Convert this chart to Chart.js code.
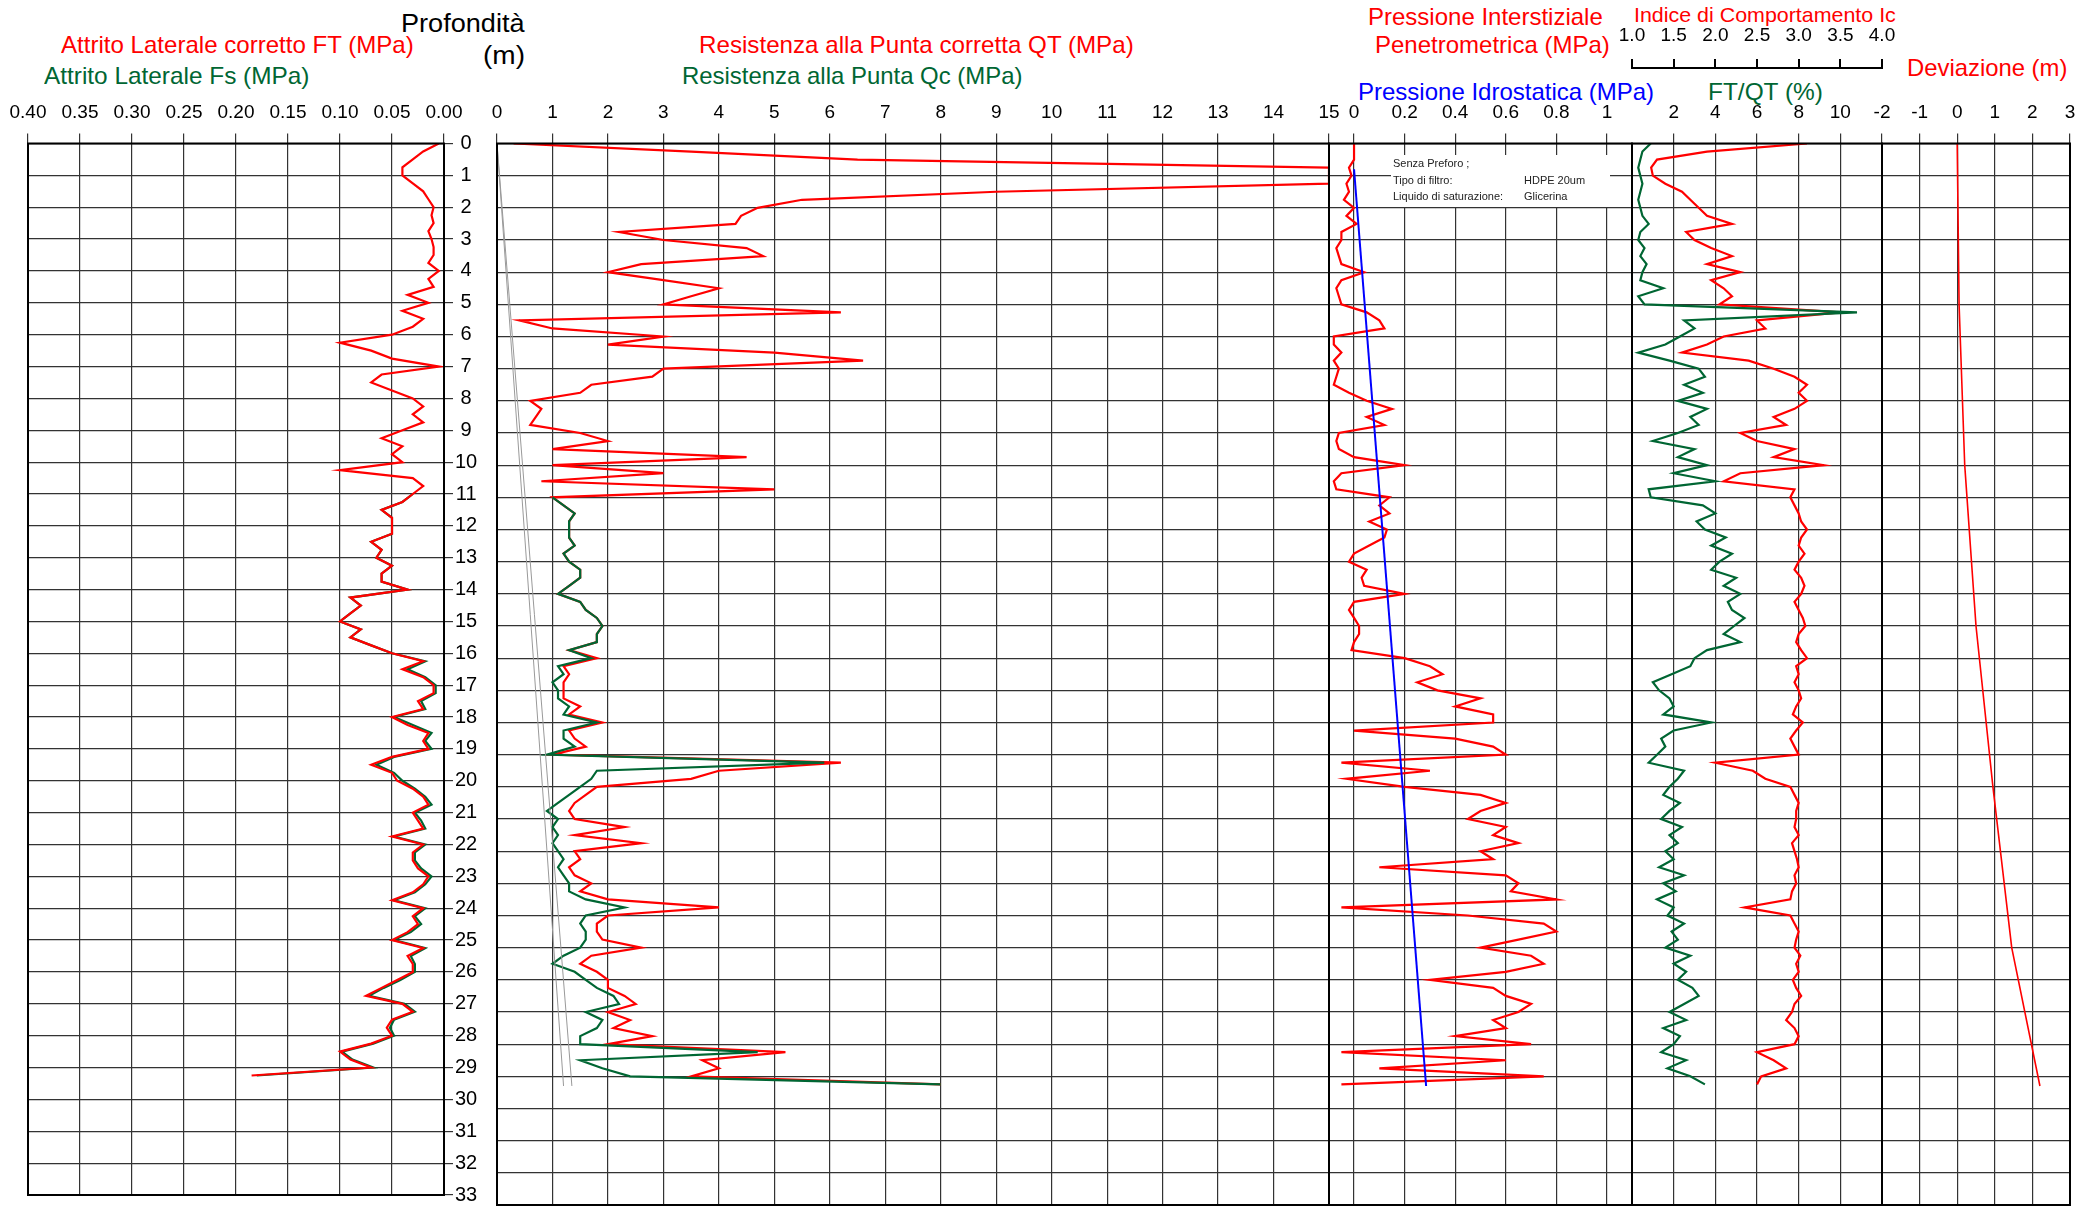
<!DOCTYPE html>
<html>
<head>
<meta charset="utf-8">
<script src="https://cdn.jsdelivr.net/npm/chart.js@4.4.1/dist/chart.umd.min.js"></script>
<style>
  body { margin:0; width:2098px; height:1209px; background:#fff; position:relative; overflow:hidden; font-family:"Liberation Sans", Arial, sans-serif; }
  canvas { position:absolute; top:0; }
  .lbl { position:absolute; white-space:nowrap; font-size:24px; line-height:24px; margin-top:-12px; transform-origin:0 50%; }
  .r { color:#ff0000; } .g { color:#006633; } .b { color:#0000ff; } .k { color:#000; }
</style>
</head>
<body>
<div class="lbl k" data-w="124" style="left:401px;top:23px;font-size:26px">Profondità</div>
<div class="lbl k" data-w="42" style="left:483px;top:55px;font-size:26px">(m)</div>
<div class="lbl r" data-w="353" style="left:61px;top:45px">Attrito Laterale corretto FT (MPa)</div>
<div class="lbl g" data-w="265" style="left:44px;top:76px">Attrito Laterale Fs (MPa)</div>
<div class="lbl r" data-w="435" style="left:699px;top:45px">Resistenza alla Punta corretta QT (MPa)</div>
<div class="lbl g" data-w="340" style="left:682px;top:76px">Resistenza alla Punta Qc (MPa)</div>
<div class="lbl r" data-w="235" style="left:1368px;top:17px">Pressione Interstiziale</div>
<div class="lbl r" data-w="235" style="left:1375px;top:45px">Penetrometrica (MPa)</div>
<div class="lbl r" data-w="262" style="left:1634px;top:15px;font-size:21px">Indice di Comportamento Ic</div>
<div class="lbl r" data-w="160" style="left:1907px;top:68px">Deviazione (m)</div>
<div class="lbl b" data-w="296" style="left:1358px;top:92px">Pressione Idrostatica (MPa)</div>
<div class="lbl g" data-w="115" style="left:1708px;top:92px">FT/QT (%)</div>

<canvas id="p1"></canvas>
<canvas id="p2"></canvas>
<canvas id="p3"></canvas>
<canvas id="p4"></canvas>
<canvas id="p5"></canvas>

<script>
// depth grid (m)
const D = [0,0.25,0.5,0.75,1,1.25,1.5,1.75,2,2.25,2.5,2.75,3,3.25,3.5,3.75,4,4.25,4.5,4.75,5,5.25,5.5,5.75,
  6,6.25,6.5,6.75,7,7.25,7.5,7.75,8,8.25,8.5,8.75,9,9.25,9.5,9.75,10,10.25,10.5,10.75,11,11.25,11.5,11.75,
  12,12.25,12.5,12.75,13,13.25,13.5,13.75,14,14.25,14.5,14.75,15,15.25,15.5,15.75,16,16.25,16.5,16.75,17,17.25,17.5,17.75,
  18,18.25,18.5,18.75,19,19.25,19.5,19.75,20,20.25,20.5,20.75,21,21.25,21.5,21.75,22,22.25,22.5,22.75,23,23.25,23.5,23.75,
  24,24.25,24.5,24.75,25,25.25,25.5,25.75,26,26.25,26.5,26.75,27,27.25,27.5,27.75,28,28.25,28.5,28.75,29,29.25];
const D_DEEP = D.slice(44); // from 11 m

// Attrito laterale corretto FT (MPa)
const FT = [0.005,0.02,0.03,0.04,0.04,0.03,0.02,0.015,0.01,0.012,0.01,0.015,
  0.012,0.01,0.01,0.015,0.005,0.015,0.01,0.035,0.015,0.04,0.02,0.03,
  0.05,0.10,0.07,0.05,0.005,0.06,0.07,0.05,0.03,0.02,0.03,0.02,
  0.04,0.06,0.04,0.05,0.04,0.10,0.03,0.02,0.03,0.04,0.06,0.05,
  0.05,0.05,0.07,0.06,0.065,0.05,0.06,0.06,0.035,0.09,0.08,0.09,
  0.10,0.08,0.09,0.07,0.05,0.02,0.04,0.02,0.01,0.01,0.025,0.02,
  0.05,0.035,0.015,0.02,0.015,0.05,0.07,0.05,0.045,0.03,0.02,0.015,
  0.03,0.025,0.02,0.05,0.02,0.03,0.03,0.025,0.015,0.02,0.03,0.05,
  0.02,0.03,0.025,0.035,0.05,0.02,0.035,0.03,0.03,0.045,0.06,0.075,
  0.04,0.03,0.05,0.055,0.05,0.07,0.10,0.09,0.07,0.185];
// Attrito laterale Fs (MPa), from 11 m
const FS = [0.03,0.04,0.06,0.05,
  0.05,0.05,0.07,0.06,0.065,0.05,0.06,0.06,0.035,0.09,0.08,0.09,
  0.10,0.08,0.09,0.07,0.05,0.018,0.035,0.018,0.008,0.008,0.022,0.018,
  0.048,0.03,0.012,0.018,0.012,0.048,0.065,0.048,0.04,0.028,0.018,0.012,
  0.028,0.022,0.018,0.048,0.018,0.028,0.028,0.022,0.012,0.018,0.028,0.048,
  0.018,0.028,0.022,0.032,0.048,0.018,0.032,0.028,0.028,0.042,0.058,0.072,
  0.038,0.028,0.048,0.052,0.048,0.068,0.098,0.088,0.068,0.18];
// Resistenza alla punta corretta QT (MPa)
const QT = [0.3,3.5,6.5,15,15,15,9.0,5.5,4.7,4.4,4.3,2.2,
  3.0,4.5,4.8,2.6,2.0,3.0,4.0,3.5,3.0,6.2,0.4,1.0,
  3.0,2.0,5.0,6.6,3.0,2.8,1.7,1.5,0.6,0.8,0.7,0.6,
  1.5,2.0,1.0,4.5,1.0,3.0,0.8,5.0,1.0,1.2,1.4,1.3,
  1.3,1.3,1.4,1.2,1.3,1.5,1.5,1.3,1.1,1.5,1.6,1.8,
  1.9,1.8,1.8,1.3,1.8,1.2,1.3,1.2,1.2,1.2,1.5,1.3,
  1.9,1.3,1.4,1.6,1.0,6.2,4.0,3.5,1.8,1.6,1.4,1.3,
  1.4,2.3,1.4,2.6,1.4,1.5,1.3,1.4,1.7,1.5,2.0,4.0,
  2.0,1.8,1.8,1.9,2.6,1.7,1.5,1.8,2.0,2.0,2.3,2.5,
  2.0,2.4,2.1,2.8,2.0,5.2,3.7,4.0,3.5,8.0];
// Resistenza alla punta Qc (MPa), from 11 m
const QC = [1.0,1.2,1.4,1.3,
  1.3,1.3,1.4,1.2,1.3,1.5,1.5,1.3,1.1,1.5,1.6,1.8,
  1.9,1.8,1.8,1.3,1.7,1.1,1.2,1.0,1.1,1.1,1.3,1.2,
  1.8,1.2,1.2,1.4,0.9,5.9,1.8,1.7,1.5,1.3,1.1,0.9,
  1.1,1.0,1.1,1.0,1.1,1.2,1.1,1.2,1.3,1.3,1.6,2.3,
  1.6,1.5,1.6,1.6,1.5,1.2,1.0,1.4,1.6,1.8,2.1,2.2,
  1.6,1.9,1.8,1.5,1.5,4.7,1.5,1.9,2.4,8.0];
// Pressione interstiziale u2 (MPa)
const U2 = [0,0,0,-0.02,-0.01,-0.03,-0.02,-0.04,0.0,-0.03,0.01,-0.05,
  -0.05,-0.07,-0.06,-0.05,0.04,-0.05,-0.07,-0.06,-0.05,0.05,0.10,0.12,
  -0.08,-0.08,-0.05,-0.08,-0.06,-0.07,-0.08,-0.02,0.05,0.15,0.05,0.12,
  -0.06,-0.07,-0.06,0.0,0.2,-0.05,-0.08,-0.07,0.14,0.10,0.14,0.06,
  0.13,0.12,0.06,0.0,-0.02,0.05,0.03,0.04,0.2,0.0,-0.02,0.0,
  0.02,0.02,0.0,-0.01,0.2,0.3,0.35,0.25,0.33,0.5,0.4,0.55,
  0.55,0.0,0.4,0.55,0.6,-0.05,0.3,-0.03,0.2,0.5,0.6,0.5,
  0.45,0.6,0.55,0.65,0.5,0.55,0.1,0.6,0.65,0.62,0.8,-0.05,
  0.45,0.75,0.8,0.65,0.5,0.7,0.75,0.6,0.3,0.55,0.6,0.7,
  0.65,0.55,0.6,0.4,0.7,-0.05,0.6,0.1,0.75,-0.05];
// Pressione idrostatica
const HY_D = [0.8, 29.3];
const HY_U = [0, 0.285];
// Indice di comportamento Ic
const IC = [3.1,1.9,1.3,1.23,1.25,1.4,1.6,1.7,1.8,1.9,2.2,1.65,
  1.75,1.95,2.2,1.9,2.3,1.95,2.1,2.2,2.05,3.5,2.5,2.6,
  2.1,1.9,1.6,2.4,2.7,2.95,3.1,3.0,3.1,2.95,2.7,2.85,
  2.3,2.5,2.95,2.7,3.3,2.3,2.1,2.95,2.9,2.95,3.0,3.03,
  3.1,3.03,3.0,3.07,3.0,2.95,3.03,3.07,3.03,2.95,3.0,3.05,
  3.08,3.0,2.97,3.03,3.1,2.97,3.0,2.95,3.0,3.03,2.97,2.93,
  3.05,2.97,2.9,2.95,3.0,2.0,2.45,2.6,2.9,2.95,3.0,2.97,
  2.97,2.95,3.0,2.92,2.95,2.98,3.0,2.95,2.97,2.92,2.9,2.35,
  2.9,2.95,3.0,2.97,2.95,3.02,2.97,3.0,2.93,2.97,3.03,2.95,
  2.92,2.85,2.95,3.0,2.95,2.5,2.7,2.85,2.55,2.5];
// Rapporto FT/QT (%)
const FR = [0.9,0.5,0.4,0.3,0.4,0.5,0.4,0.3,0.4,0.5,0.8,0.4,
  0.3,0.6,0.4,0.7,0.5,0.4,1.5,0.3,0.6,10.8,2.5,3.0,
  2.3,1.6,0.3,1.8,3.2,3.5,2.5,3.4,2.2,3.6,2.8,3.2,
  2.2,1.0,3.0,2.2,3.6,2.0,4.0,0.8,0.9,3.4,4.0,3.1,
  3.5,4.5,3.8,4.8,4.2,3.8,5.0,4.4,5.2,4.6,4.8,5.4,
  4.9,4.4,5.2,3.6,3.0,2.8,1.9,1.0,1.3,1.8,2.0,1.5,
  3.8,2.0,1.4,1.6,1.2,0.8,2.5,2.2,1.8,1.5,2.3,1.8,
  1.4,2.4,1.8,2.2,1.6,2.0,1.3,2.5,1.5,2.1,1.2,2.0,
  1.7,2.5,1.9,2.2,1.6,2.8,2.0,2.6,2.2,2.9,3.2,2.5,
  1.8,2.6,1.5,2.3,2.0,1.4,2.6,1.7,2.8,3.5];
// Deviazione (m)
const DEV_D = [0, 5, 10, 15, 20, 25, 29.3];
const DEV = [0, 0.05, 0.2, 0.5, 0.95, 1.45, 2.2];
// thin grey reference lines in panel 2
const GR_D = [0, 29.3];
const GR_A = [0, 1.2];
const GR_B = [0, 1.35];

// tick labels
const T_FT = [0.40,0.35,0.30,0.25,0.20,0.15,0.10,0.05,0.00];
const T_QT = [0,1,2,3,4,5,6,7,8,9,10,11,12,13,14,15];
const T_U = [0,0.2,0.4,0.6,0.8,1];
const T_FR = [2,4,6,8,10];
const T_IC = [1.0,1.5,2.0,2.5,3.0,3.5,4.0];
const T_DEV = [-2,-1,0,1,2,3];

// stretch header labels to the widths measured on the reference
document.querySelectorAll('.lbl').forEach(el => {
  const w = +el.dataset.w;
  el.style.transform = 'scaleX(' + (w / el.offsetWidth) + ')';
});

Chart.defaults.font.family = '"Liberation Sans", Arial, sans-serif';
Chart.defaults.color = '#000';
Chart.defaults.animation = false;

const pts = (xs, ds) => xs.map((v, i) => ({ x: v, y: ds[i] }));
const line = (data, color, w) => ({ data, borderColor: color, borderWidth: w, pointRadius: 0, showLine: true, tension: 0, fill: false });
const RED = '#ff0000', GREEN = '#006633', BLUE = '#0000ff';
const PAD = 45, TOP = 143.5, BOT = 1205, H = 1209;
const P2R = 1329; // right edge of panel 2 / left edge of panel 3

const frame = { id: 'frame', afterDraw(c) {
  const a = c.chartArea, x = c.ctx;
  x.save(); x.strokeStyle = '#000'; x.lineWidth = 2; x.strokeRect(a.left, a.top, a.right - a.left, a.bottom - a.top); x.restore();
}};

function xAxis(min, max, ticks, fmt, extra) {
  return Object.assign({
    type: 'linear', position: 'top', min, max,
    afterBuildTicks: s => { s.ticks = ticks.map(v => ({ value: v })); },
    afterFit: s => { s.height = TOP; },
    ticks: { font: { size: 19 }, padding: 9, maxRotation: 0, autoSkip: false, callback: fmt },
    grid: { color: '#333', lineWidth: 1.2, tickLength: 10, drawTicks: true },
    border: { display: false }
  }, extra || {});
}
function yAxis(extra) {
  return Object.assign({
    type: 'linear', reverse: true, min: 0, max: 33,
    afterBuildTicks: s => { s.ticks = []; for (let i = 0; i <= 33; i++) s.ticks.push({ value: i }); },
    afterFit: s => { s.width = 0; },
    ticks: { display: false },
    grid: { color: '#333', lineWidth: 1.2, drawTicks: false },
    border: { display: false }
  }, extra || {});
}
function place(id, left, right) {
  const cv = document.getElementById(id);
  cv.style.left = (left - PAD) + 'px';
  cv.width = right - left + 2 * PAD; cv.height = H;
  cv.style.width = cv.width + 'px'; cv.style.height = H + 'px';
  return cv;
}
function make(id, left, right, datasets, scales, plugins) {
  const cv = place(id, left, right);
  new Chart(cv, {
    type: 'scatter',
    data: { datasets },
    options: {
      responsive: false, maintainAspectRatio: false,
      layout: { padding: { left: PAD, right: PAD, top: 0, bottom: H - BOT } },
      plugins: { legend: { display: false }, tooltip: { enabled: false } },
      scales
    },
    plugins: [frame].concat(plugins || [])
  });
}

// Panel 1: attrito laterale, with depth axis on the right
make('p1', 28, 497, [
  line(pts(FT, D), RED, 2.2),
  line(pts(FS, D_DEEP), GREEN, 2.2)
], {
  x: xAxis(0, 0.4, T_FT, v => v.toFixed(2), { reverse: true }),
  y: yAxis({
    position: 'right',
    afterFit: s => { s.width = 53; },
    ticks: { display: true, font: { size: 20 }, padding: 2, crossAlign: 'center', autoSkip: false },
    grid: { color: '#333', lineWidth: 1.2, drawTicks: true, tickLength: 9 }
  })
});

// Panel 2: resistenza alla punta
make('p2', 497, P2R, [
  line(pts(GR_A, GR_D), '#999', 1),
  line(pts(GR_B, GR_D), '#999', 1),
  line(pts(QC, D_DEEP), GREEN, 2.2),
  line(pts(QT, D), RED, 2.2)
], { x: xAxis(0, 15, T_QT, v => String(v)), y: yAxis() });

// Panel 3: pressione interstiziale
const infoBox = { id: 'info', beforeDatasetsDraw(c) {
  const x = c.ctx, ox = P2R - PAD;
  x.save();
  x.fillStyle = '#fff'; x.fillRect(1391 - ox, 155, 219, 52);
  x.fillStyle = '#222'; x.font = '11px "Liberation Sans", Arial'; x.textBaseline = 'middle';
  x.fillText('Senza Preforo ;', 1393 - ox, 164);
  x.fillText('Tipo di filtro:', 1393 - ox, 181);
  x.fillText('HDPE 20um', 1524 - ox, 181);
  x.fillText('Liquido di saturazione:', 1393 - ox, 197);
  x.fillText('Glicerina', 1524 - ox, 197);
  x.restore();
}};
make('p3', P2R, 1632, [
  line(pts(HY_U, HY_D), BLUE, 2),
  line(pts(U2, D), RED, 2.2)
], { x: xAxis(-0.099, 1.099, T_U, v => String(v)), y: yAxis() }, [infoBox]);

// Panel 4: Ic and FT/QT
make('p4', 1632, 1882, [
  Object.assign(line(pts(FR, D), GREEN, 2.2), { xAxisID: 'x' }),
  Object.assign(line(pts(IC, D), RED, 2.2), { xAxisID: 'ic' })
], {
  x: xAxis(0, 12, T_FR, v => String(v), { weight: 0, afterFit: s => { s.height = TOP - 68; } }),
  ic: {
    type: 'linear', position: 'top', min: 1, max: 4, weight: 1,
    afterBuildTicks: s => { s.ticks = T_IC.map(v => ({ value: v })); },
    afterFit: s => { s.height = 68; },
    ticks: { font: { size: 19 }, padding: 12, maxRotation: 0, autoSkip: false, callback: v => v.toFixed(1) },
    grid: { drawOnChartArea: false, drawTicks: true, tickLength: 9, color: '#000', lineWidth: 2 },
    border: { display: true, color: '#000', width: 2 }
  },
  y: yAxis()
});

// Panel 5: deviazione
make('p5', 1882, 2070, [
  line(pts(DEV, DEV_D), RED, 1.6)
], { x: xAxis(-2, 3, T_DEV, v => String(v)), y: yAxis() });
</script>
</body>
</html>
